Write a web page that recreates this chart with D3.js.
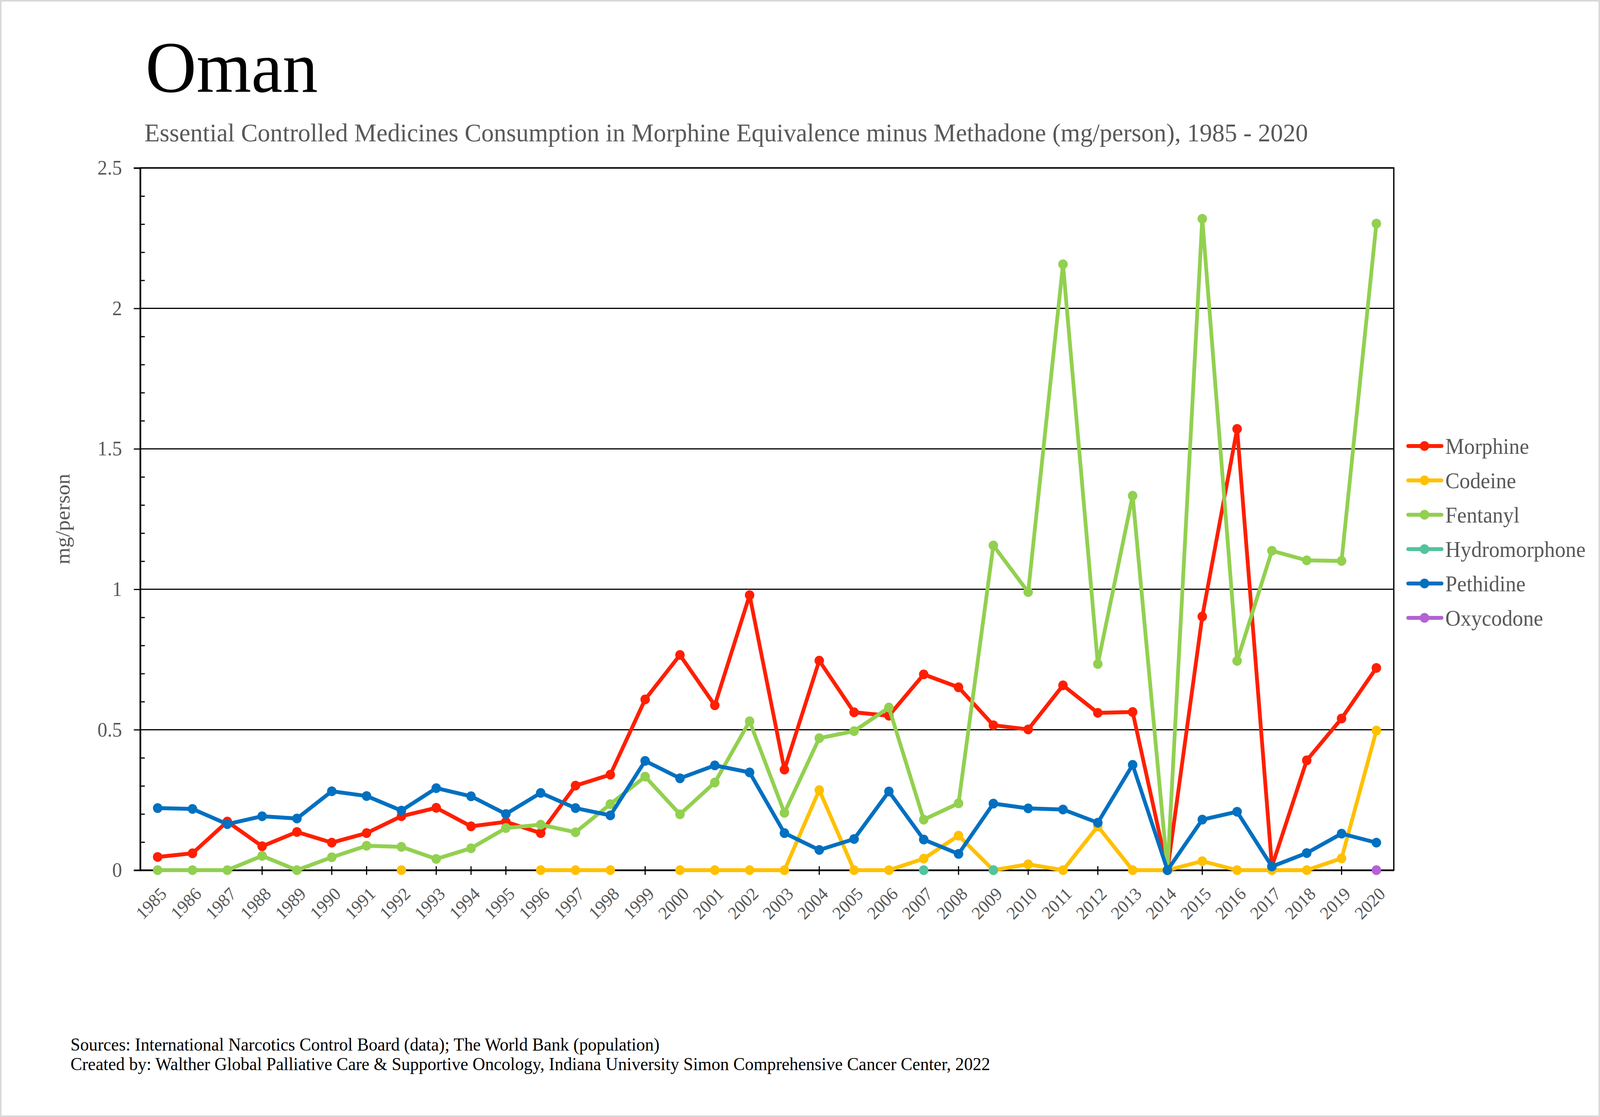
<!DOCTYPE html>
<html>
<head>
<meta charset="utf-8">
<script src="https://cdn.jsdelivr.net/npm/d3@7"></script>
<style>
  html, body { margin: 0; padding: 0; background: #fff; overflow: hidden; width: 100%; height: 100%; }
  svg { display: block; width: 100vw; height: 100vh; }
  text { font-family: "Liberation Serif", "Times New Roman", serif; }
</style>
</head>
<body>
<script>
const years = d3.range(1985, 2021).map(String);

const morphine = [0.047,0.06,0.173,0.085,0.136,0.098,0.132,0.192,0.222,0.156,0.172,0.132,0.301,0.34,0.608,0.766,0.587,0.979,0.358,0.746,0.562,0.55,0.697,0.651,0.516,0.501,0.658,0.56,0.563,0,0.903,1.571,0.013,0.391,0.54,0.72];
const codeine = [null,null,null,null,null,null,null,0,null,null,null,0,0,0,null,0,0,0,0,0.285,0,0,0.041,0.123,0,0.021,0,0.156,0,0,0.032,0,0,0,0.042,0.497];
const fentanyl = [0,0,0,0.051,0,0.046,0.087,0.083,0.04,0.078,0.15,0.162,0.135,0.235,0.333,0.199,0.312,0.53,0.204,0.47,0.495,0.579,0.18,0.238,1.156,0.99,2.157,0.734,1.333,0,2.319,0.745,1.137,1.103,1.101,2.302];
const hydromorphone = [null,null,null,null,null,null,null,null,null,null,null,null,null,null,null,null,null,null,null,null,null,null,0,null,0,null,null,null,null,null,null,null,null,null,null,null];
const pethidine = [0.221,0.218,0.164,0.192,0.184,0.281,0.264,0.212,0.292,0.263,0.2,0.275,0.221,0.195,0.389,0.327,0.373,0.348,0.132,0.072,0.111,0.28,0.109,0.058,0.237,0.22,0.216,0.169,0.375,0,0.18,0.208,0.013,0.061,0.13,0.098];
const oxycodone = [null,null,null,null,null,null,null,null,null,null,null,null,null,null,null,null,null,null,null,null,null,null,null,null,null,null,null,null,null,null,null,null,null,null,null,0];

const seriesNames = ["Morphine","Codeine","Fentanyl","Hydromorphone","Pethidine","Oxycodone"];
const seriesColors = ["#FF1F00","#FFC000","#92D050","#50C49F","#0070C0","#B462D4"];
const seriesValues = [morphine, codeine, fentanyl, hydromorphone, pethidine, oxycodone];
const yTicks = [0, 0.5, 1, 1.5, 2, 2.5];

const W = 4221, H = 2860;
const plot = { left: 370, right: 3677, top: 430, bottom: 2228 };

const svg = d3.select("body").append("svg")
  .attr("viewBox", `0 0 ${W} ${H}`)
  .attr("preserveAspectRatio", "none");
svg.append("rect").attr("x", 0).attr("y", 0).attr("width", W).attr("height", H).attr("fill", "#fff");
svg.append("rect").attr("x", 2).attr("y", 2).attr("width", W - 4).attr("height", H - 4)
  .attr("fill", "none").attr("stroke", "#d9d9d9").attr("stroke-width", 4);

const x = d3.scaleBand().domain(years).range([plot.left, plot.right]).paddingInner(0).paddingOuter(0);
const cx = d => x(d) + x.bandwidth() / 2;
const y = d3.scaleLinear().domain([0, 2.5]).range([plot.bottom, plot.top]);

// Title & subtitle
svg.append("text").attr("x", 384).attr("y", 235).attr("font-size", 186).attr("fill", "#000").text("Oman");
svg.append("text").attr("x", 381).attr("y", 362).attr("font-size", 66).attr("fill", "#595959")
  .text("Essential Controlled Medicines Consumption in Morphine Equivalence minus Methadone (mg/person), 1985 - 2020");

// Gridlines
svg.append("g").selectAll("line").data(yTicks.filter(t => t > 0)).join("line")
  .attr("x1", plot.left).attr("x2", plot.right)
  .attr("y1", d => y(d)).attr("y2", d => y(d))
  .attr("stroke", "#000").attr("stroke-width", 3);

// Plot frame
svg.append("rect").attr("x", plot.left).attr("y", plot.top)
  .attr("width", plot.right - plot.left).attr("height", plot.bottom - plot.top)
  .attr("fill", "none").attr("stroke", "#000").attr("stroke-width", 3.5);

// Y axis: major ticks outward with labels
const yAxis = d3.axisLeft(y).tickValues(yTicks).tickSize(17).tickPadding(31).tickFormat(d3.format("~g"));
const gy = svg.append("g").attr("transform", `translate(${plot.left},0)`).call(yAxis);
gy.select(".domain").attr("stroke", "#000").attr("stroke-width", 4);
gy.selectAll(".tick line").attr("stroke", "#000").attr("stroke-width", 3);
gy.selectAll(".tick text").attr("font-size", 52).attr("fill", "#595959")
  .attr("font-family", "Liberation Serif, serif");

// Y minor ticks inward
const minor = d3.range(0, 2.5001, 0.1).filter(v => Math.abs(v * 2 - Math.round(v * 2)) > 1e-6);
const yMinor = d3.axisRight(y).tickValues(minor).tickSize(12).tickFormat("");
const gym = svg.append("g").attr("transform", `translate(${plot.left},0)`).call(yMinor);
gym.select(".domain").remove();
gym.selectAll(".tick line").attr("stroke", "#000").attr("stroke-width", 3);

// X axis
const xAxis = d3.axisBottom(x).tickSize(0).tickFormat("");
const gx = svg.append("g").attr("transform", `translate(0,${plot.bottom})`).call(xAxis);
gx.select(".domain").attr("stroke", "#000").attr("stroke-width", 4);
gx.selectAll(".tick").append("line").attr("y1", -10).attr("y2", 12).attr("stroke", "#000").attr("stroke-width", 3);
gx.selectAll(".tick").append("text")
  .attr("transform", "translate(15,52) rotate(-45)")
  .attr("text-anchor", "end").attr("dy", "0.35em")
  .attr("font-size", 46).attr("fill", "#595959")
  .attr("font-family", "Liberation Serif, serif")
  .text(d => d);

// Y axis title
svg.append("text")
  .attr("transform", `translate(183,${(plot.top + plot.bottom) / 2}) rotate(-90)`)
  .attr("text-anchor", "middle").attr("font-size", 55).attr("fill", "#595959")
  .text("mg/person");

// Series
const line = d3.line().defined(d => d.v !== null).x(d => cx(d.year)).y(d => y(d.v));
const gs = svg.append("g");
seriesNames.forEach((name, i) => {
  const data = years.map((yr, j) => ({ year: yr, v: seriesValues[i][j] }));
  gs.append("path").datum(data).attr("d", line)
    .attr("fill", "none").attr("stroke", seriesColors[i])
    .attr("stroke-width", 10).attr("stroke-linejoin", "round").attr("stroke-linecap", "round");
  gs.append("g").selectAll("circle").data(data.filter(d => d.v !== null)).join("circle")
    .attr("cx", d => cx(d.year)).attr("cy", d => y(d.v)).attr("r", 12.5)
    .attr("fill", seriesColors[i]);
});

// Legend
const legend = svg.append("g");
seriesNames.forEach((name, i) => {
  const ly = 1142 + i * 88;
  legend.append("line").attr("x1", 3715).attr("x2", 3803).attr("y1", ly).attr("y2", ly)
    .attr("stroke", seriesColors[i]).attr("stroke-width", 10).attr("stroke-linecap", "round");
  legend.append("circle").attr("cx", 3758).attr("cy", ly).attr("r", 12.5).attr("fill", seriesColors[i]);
  legend.append("text").attr("x", 3813).attr("y", ly).attr("dy", "0.35em")
    .attr("font-size", 56).attr("fill", "#595959").text(name);
});

// Footer
svg.append("text").attr("x", 186).attr("y", 2690).attr("font-size", 46).attr("fill", "#000")
  .text("Sources: International Narcotics Control Board (data); The World Bank (population)");
svg.append("text").attr("x", 186).attr("y", 2740).attr("font-size", 46).attr("fill", "#000")
  .text("Created by: Walther Global Palliative Care & Supportive Oncology, Indiana University Simon Comprehensive Cancer Center, 2022");
</script>
</body>
</html>
